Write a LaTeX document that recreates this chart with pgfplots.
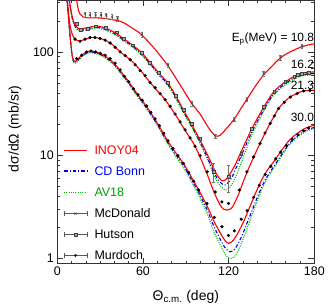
\documentclass[border=0pt]{standalone}
\usepackage{fontspec}
\setmainfont{Liberation Sans}
\usepackage{pgfplots}
\pgfplotsset{compat=1.18}
\definecolor{cInoy}{RGB}{255,0,0}
\definecolor{cBonn}{RGB}{0,0,255}
\definecolor{cAv}{RGB}{0,185,0}
\definecolor{cInoyT}{RGB}{250,0,0}
\definecolor{cBonnT}{RGB}{0,0,248}
\definecolor{cAvT}{RGB}{0,160,0}
\newcommand{\rl}[1]{\rule[3.95bp]{#1}{1.1bp}}
\begin{document}
\begin{tikzpicture}[font=\fontsize{12.5}{15}\selectfont]
\begin{axis}[
  at={(0,0)}, anchor=south west,
  width=257bp, height=263.3bp, scale only axis,
  xmin=0, xmax=180, ymin=0.89, ymax=316, ymode=log,
  xtick={0,60,120,180}, minor x tick num=5,
  ytick={1,10,100}, yticklabels={1,10,100},
  minor ytick={0.9,2,3,4,5,6,7,8,9,20,30,40,50,60,70,80,90,200,300},
  /pgf/number format/assume math mode=true,
  tick align=inside,
  major tick length=6bp, minor tick length=3bp,
  every tick/.style={black!80, line width=0.5bp},
  axis line style={black!80, line width=0.7bp},
  xlabel={Θ\textsubscript{c.m.} (deg)},
  ylabel={dσ/dΩ (mb/sr)},
  xlabel style={at={(axis description cs:0.5,-0.139)}, anchor=base, font=\fontsize{14}{16}\selectfont},
  ylabel style={at={(axis description cs:-0.165,0.512)}, anchor=center, font=\fontsize{14}{16}\selectfont},
  legend style={at={(axis description cs:0.023,0.455)}, anchor=north west, draw=none, fill=none, row sep=6.6bp, column sep=5bp, inner sep=0pt, font=\fontsize{12.5}{15}\selectfont},
  legend cell align=left,
]
% legend entries
\addlegendimage{legend image code/.code={\path (0bp,0bp) (23bp,0bp);}}
\addlegendentry[text=cInoyT]{\makebox[0pt][r]{\textcolor{cInoy}{\rl{23bp}}\hspace{7.2bp}}INOY04}
\addlegendimage{legend image code/.code={\path (0bp,0bp) (23bp,0bp);}}
\addlegendentry[text=cBonnT]{\makebox[0pt][r]{\textcolor{cBonn}{\rl{3.5bp}\hspace{2bp}\rl{1bp}\hspace{2bp}\rl{3.5bp}\hspace{2bp}\rl{1bp}\hspace{2bp}\rl{3.5bp}\hspace{2bp}\rl{0.5bp}}\hspace{7.2bp}}CD Bonn}
\addlegendimage{legend image code/.code={\draw[draw=cAv, line width=1.1bp, dash pattern=on 1bp off 1.3bp] (0bp,0bp) -- (23bp,0bp);}}
\addlegendentry[text=cAvT]{AV18}
\addlegendimage{legend image code/.code={\draw[black!65, line width=0.6bp] (0bp,0bp) -- (23bp,0bp) (0bp,-2.5bp) -- (0bp,2.5bp) (23bp,-2.5bp) -- (23bp,2.5bp); \draw[black!80, mark=x, mark size=1.6bp] plot coordinates {(11.5bp,0bp)};}}
\addlegendentry{McDonald}
\addlegendimage{legend image code/.code={\draw[black!65, line width=0.6bp] (0bp,0bp) -- (23bp,0bp) (0bp,-2.5bp) -- (0bp,2.5bp) (23bp,-2.5bp) -- (23bp,2.5bp); \draw[black!75, fill=black!35, mark=square*, mark size=1.4bp] plot coordinates {(11.5bp,0bp)};}}
\addlegendentry{Hutson}
\addlegendimage{legend image code/.code={\draw[black!65, line width=0.6bp] (0bp,0bp) -- (23bp,0bp) (0bp,-2.5bp) -- (0bp,2.5bp) (23bp,-2.5bp) -- (23bp,2.5bp); \draw[black!90, mark=*, mark size=1.3bp] plot coordinates {(11.5bp,0bp)};}}
\addlegendentry{Murdoch}

% ---------- 10.8 MeV ----------
\addplot[cInoy, line width=1.1bp, smooth, forget plot] coordinates {
(12.3,420)(13,360)(13.8,300)(14.8,255)(16,232)(18,219)(21,214)(26,214)(32,212)(38,206)(45,196)(52,172)(59,147)(68,108)(77,75)(86,48)(94,32)(100,25)(105,19.3)(108,16.8)(111,15.3)(114,15.6)(118,17.8)(124,22.4)(128,27.5)(132.8,34.8)(138,45)(144.5,60)(150,72)(156,87)(163,100)(171,112)(176,117)(180,120)};

% ---------- 16.2 MeV ----------
\addplot[cAv, line width=1.1bp, dash pattern=on 1bp off 1.3bp, smooth, forget plot] coordinates {
(8.3,315)(9,267)(10,224)(11,196)(12.5,174)(14.7,161)(17,160)(21,164)(26.4,169)(30,168)(34,162)(40,148)(46.3,129)(52.9,110.5)(59.2,93)(65,75)(70.8,60)(77.4,47.5)(83.2,35.2)(88.4,25.7)(94,18.8)(100,13)(105,9.2)(110,6.3)(113,5.3)(117.5,4.6)(120,4.75)(123,5.4)(126,6.7)(130,9.3)(136.3,15.8)(144.5,26.5)(151.5,38)(159.7,48)(170,58)(180,60)};
\addplot[cBonn, line width=1.1bp, dash pattern=on 3.5bp off 2bp on 1bp off 2bp, smooth, forget plot] coordinates {
(8.3,322)(9,273)(10,229)(11,200)(12.5,177)(14.7,165)(17,164)(21,168)(26.4,173)(30,172)(34,166)(40,151)(46.3,131)(52.9,113)(59.2,95)(65,77)(70.8,61.5)(77.4,48.7)(83.2,36.1)(88.4,26.4)(94,19.3)(100,13.4)(105,9.6)(110,6.7)(113,5.7)(116.5,5.15)(119,5.3)(122,6.0)(125,7.4)(129,10)(136.3,16.8)(144.5,27.5)(151.5,39.3)(159.7,49.5)(170,59.8)(180,62)};
\addplot[cInoy, line width=1.1bp, smooth, forget plot] coordinates {
(8.3,330)(9,280)(10,235)(11,205)(12.5,182)(14.7,169)(17,168)(21,172)(26.4,177)(30,176)(34,170)(40,155)(46.3,135)(52.9,116)(59.2,97.8)(65,79)(70.8,63.2)(77.4,50.1)(83.2,37.2)(88.4,27.3)(94,20)(100,14)(105,10.2)(110,7.2)(113,6.1)(115.5,5.65)(118,5.8)(121,6.6)(125,8.3)(129,11)(136.3,18.1)(144.5,29)(151.5,41)(159.7,51.3)(170,61.8)(180,64)};

% ---------- 21.3 MeV ----------
\addplot[cInoy, line width=1.1bp, smooth, forget plot] coordinates {
(6.9,330)(7.5,270)(8.3,210)(9.3,170)(10.5,148)(12,135)(14,129)(16,128)(19,132)(22.5,137)(26,138)(30,135)(33.5,130)(37,122)(40.5,112)(44,100)(48.7,89.5)(53.3,78.9)(59.2,64)(65,50.5)(70.8,41)(74.3,36.2)(79,29.5)(83.7,23.5)(90,17)(95.4,13)(100,9.6)(105,6.5)(110,4.3)(114,3.3)(116.5,3.0)(118.8,2.94)(121,3.0)(123,3.2)(127,4.2)(131,5.9)(136,8.6)(142,13)(149,20.3)(155,28.3)(159,32.8)(163,36.6)(168,39.8)(172.6,41.9)(180,42.6)};

% ---------- 30.0 MeV ----------
\addplot[cAv, line width=1.1bp, dash pattern=on 1bp off 1.3bp, smooth, forget plot] coordinates {
(6.8,317)(7.5,240)(8.5,163)(9.5,115)(10.5,88)(11.9,77.5)(14,80.5)(17,89)(20.5,96)(24,98)(28,95)(32,90)(36,82.5)(40,74)(44,63)(50,49)(55,39)(59,32.8)(65,25)(71,18.4)(76.7,13.3)(82,10.2)(88.4,7.6)(94,5.5)(99,4.1)(105,2.7)(110,1.78)(115,1.27)(118,1.07)(121,1.0)(124,1.04)(127,1.22)(130,1.52)(135,2.35)(141,3.9)(146,5.6)(152,7.6)(156,9.3)(163,12.8)(171,16)(176,17.4)(180,18)};
\addplot[cBonn, line width=1.1bp, dash pattern=on 3.5bp off 2bp on 1bp off 2bp, smooth, forget plot] coordinates {
(6.8,323)(7.5,245)(8.5,167)(9.5,118)(10.5,90)(11.9,79)(14,82)(17,91)(20.5,98)(24,100)(28,97)(32,92)(36,84)(40,75.5)(44,64.5)(50,50.3)(55,40)(59,33.6)(65,25.6)(71,18.9)(76.7,13.7)(82,10.6)(88.4,7.95)(94,5.8)(99,4.35)(105,2.95)(110,2.0)(115,1.45)(118,1.24)(121,1.16)(124,1.22)(127,1.42)(130,1.75)(135,2.6)(141,4.2)(146,5.9)(152,7.9)(156,9.6)(163,13.2)(171,16.5)(176,17.9)(180,18.5)};
\addplot[cInoy, line width=1.1bp, smooth, forget plot] coordinates {
(6.8,330)(7.5,250)(8.5,170)(9.5,120)(10.5,92)(11.9,81)(14,84)(17,93)(20.5,100)(24,102)(28,99)(32,94)(36,86)(40,77)(44,66)(50,51.5)(55,41)(59,34.5)(65,26.3)(71,19.5)(76.7,14.2)(82,11)(88.4,8.3)(94,6.1)(99,4.6)(105,3.2)(110,2.25)(115,1.68)(118,1.46)(120,1.40)(122,1.44)(125,1.62)(130,2.2)(135,3.2)(141,5.0)(146,6.8)(152,8.8)(156,10.6)(163,14.2)(171,17.4)(176,18.8)(180,19.4)};

% ---------- data ----------
% McDonald 10.8
\addplot[only marks, mark=x, mark size=1.6bp, black!75, forget plot,
  error bars/.cd, y dir=both, y explicit,
  error bar style={black!55, line width=0.5bp},
  error mark options={rotate=90, black!55, mark size=1.3bp, line width=0.5bp}] coordinates {
(19.4,232)+-(0,13)(22.9,228)+-(0,13)(26.8,228)+-(0,13)(30.6,228)+-(0,13)(34.2,226)+-(0,13)(38.4,218)+-(0,12)(42.2,210)+-(0,12)(59.2,147)+-(0,7)(77.4,74.3)+-(0,3.5)(94.2,31.6)+-(0,1.6)(110.6,15.3)+-(0,0.8)(124,22.2)+-(0,1.1)(132.8,34.8)+-(0,1.7)(144.5,61.8)+-(0,3)(156.2,88.3)+-(0,4.5)(171.4,113.6)+-(0,5.5)};
% Hutson 16.2
\addplot[only marks, mark=square*, mark size=1.4bp, mark options={fill=black!35, draw=black!75, line width=0.5bp}, forget plot,
  error bars/.cd, y dir=both, y explicit,
  error bar style={black!55, line width=0.5bp},
  error mark options={rotate=90, black!55, mark size=1.3bp, line width=0.5bp}] coordinates {
(13.6,188)+-(0,5)(16.2,164)+-(0,4)(21.5,168)+-(0,4)(27,177)+-(0,4)(34,171)+-(0,4)(41.6,155)+-(0,4)(46.3,135)+-(0,3)(52.9,116)+-(0,3)(59.2,98)+-(0,2.5)(65,79)+-(0,2)(70.8,63)+-(0,1.6)(77.4,50)+-(0,1.3)(83.2,37.5)+-(0,1)(88.4,27.5)+-(0,0.8)(94.2,20)+-(0,0.6)(100.1,14.3)+-(0,0.5)(109.4,6.9)+-(0,1.4)(119.9,6.2)+-(0,1.85)(128.8,10.3)+-(0,0.7)(136.3,18.1)+-(0,0.7)(144.5,29.2)+-(0,0.9)(152,41.5)+-(0,1.2)(159.7,51.3)+-(0,1.4)(166,58)+-(0,1.5)(168.5,60)+-(0,1.5)(171,61.3)+-(0,1.5)(173.5,62.3)+-(0,1.5)(176,63)+-(0,1.5)};
% Murdoch 21.3
\addplot[only marks, mark=*, mark size=1.4bp, black, forget plot] coordinates {
(12.4,133)(15.9,127)(19.4,133)(22.9,138)(26.4,138)(29.9,135)(33.5,130)(37,122)(40.5,111)(44,100)(47.5,92)(51,84)(54.5,75)(58,66)(61.5,59)(65,50.5)(68.5,45)(72,39.5)(75.5,34.5)(79,29.8)(82.5,25)(86,21)(89.5,17.6)(93,14.7)(96.5,12.2)(100,9.9)(105,6.9)(110.6,4.41)(115.3,3.53)(119.9,3.41)(127.5,4.6)(132.8,6.9)(137.5,9.6)(142,13)(145.5,16.4)(149.2,20.3)(152,24)(155,28.3)(159,32.5)(163.2,36.6)(168,39.5)(172.6,41.9)(177,42.4)};
% Murdoch 30.0
\addplot[only marks, mark=*, mark size=1.4bp, black, forget plot] coordinates {
(13.6,86)(17.1,93)(20.6,100)(23.6,102)(26.9,100)(30,97)(33.5,93)(37,86)(40.5,78)(44,67)(47,58)(50,51.5)(53.3,44)(56.5,38.5)(59.5,34)(62.5,30)(65.5,26)(68.5,22.5)(71.5,19.3)(74.5,16.3)(77.5,13.8)(81,11.6)(84.5,9.9)(88.4,8.3)(92,6.8)(95.5,5.6)(99,4.6)(104.8,3.4)(110,2.5)(115.3,2.03)(119.9,1.67)(124,1.85)(128.8,2.4)(133,2.9)(137.5,3.9)(141.5,5.1)(145.6,6.5)(149.5,7.8)(153,9.2)(156.5,10.7)(160.5,12.4)(164.5,14.3)(168.5,15.8)(172.5,17.2)(176,18.3)};

% ---------- annotations ----------
\node[anchor=base east, inner sep=0pt, font=\fontsize{12}{14}\selectfont] at (axis cs:180,127) {E\textsubscript{p}(MeV) = 10.8};
\node[anchor=base east, inner sep=0pt, font=\fontsize{12}{14}\selectfont] at (axis cs:180,69) {16.2};
\node[anchor=base east, inner sep=0pt, font=\fontsize{12}{14}\selectfont] at (axis cs:180,43.6) {21.3};
\node[anchor=base east, inner sep=0pt, font=\fontsize{12}{14}\selectfont] at (axis cs:180,21) {30.0};
\end{axis}
\path (-57.3bp,-41.7bp) rectangle (272.7bp,263.3bp);
\end{tikzpicture}
\end{document}
